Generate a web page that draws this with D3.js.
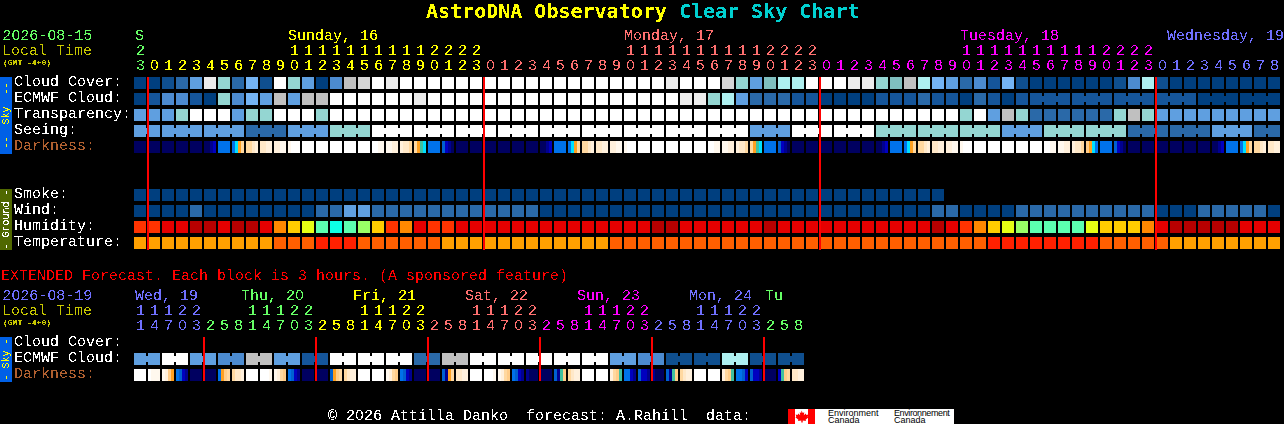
<!DOCTYPE html>
<html>
<head>
<meta charset="utf-8">
<script src="https://d3js.org/d3.v7.min.js"></script>
<style>
html, body { margin: 0; padding: 0; background: #000; overflow: hidden; }
svg { display: block; }
text { font-family: "Liberation Mono", monospace; font-size: 15px; white-space: pre; }
.cell, .bar { shape-rendering: crispEdges; }
</style>
</head>
<body>
<svg id="chart" width="1284" height="424"></svg>
<script>
// sky levels: 0 = clear/dark blue ... 13 = white
const cloudCover = [
  0,0,1,3,5,12,8,3,6,1,
  13,8,5,0,4,10,11,13,12,13,
  13,13,13,13,13,13,13,13,13,13,
  13,13,13,13,13,13,13,13,12,13,
  13,13,11,8,5,9,7,7,13,13,
  13,12,12,8,9,10,7,6,5,3,
  4,2,6,1,0,0,0,0,0,0,
  1,4,7,1,0,0,0,0,0,0,
  0,0];
const ecmwfCloud = [
  0,2,4,4,2,0,8,4,6,5,
  10,5,10,10,13,13,13,13,13,13,
  12,13,13,13,13,13,13,13,13,13,
  13,13,13,13,13,13,13,13,13,12,
  12,8,7,5,3,3,3,2,2,0,
  0,0,0,2,2,2,3,2,2,0,
  3,2,0,2,2,2,2,2,2,2,
  2,2,2,2,2,2,0,0,0,0,
  0,0];
const transparency = [
  5,5,5,8,13,13,13,5,8,8,
  13,13,13,8,13,13,13,13,13,13,
  13,13,13,13,13,13,13,13,13,13,
  13,13,13,13,13,13,13,13,13,13,
  13,13,13,13,13,13,13,13,13,13,
  13,13,13,13,13,13,13,13,13,8,
  13,5,10,8,3,3,3,3,3,3,
  8,10,8,5,5,5,5,5,5,5,
  5,5];
const seeing = [
  5,5,5,5,5,5,5,5,3,3,
  3,5,5,5,8,8,8,13,13,13,
  13,13,13,13,13,13,13,13,13,13,
  13,13,13,13,13,13,13,13,13,13,
  13,13,13,13,5,5,5,13,13,13,
  13,13,13,8,8,8,8,8,8,8,
  8,8,5,5,5,8,8,8,8,8,
  8,3,3,3,3,3,3,5,5,5,
  3,3];
// darkness: four readings per block, one hex digit each (0 = black sky ... d = daylight)
const darkness = [
  "0000","0000","0000","0000","0000","0012","4444","4579","99ab","aabb",
  "bbcc","cddd","dddd","dddd","dddd","dddd","dddd","ddcc","ccbb","baa9",
  "9765","4444","3210","0000","0000","0000","0000","0000","0000","0012",
  "4444","4579","99ab","aabb","bbcc","cddd","dddd","dddd","dddd","dddd",
  "dddd","ddcc","ccbb","baa9","9765","4444","3210","0000","0000","0000",
  "0000","0000","0000","0012","4444","4579","99ab","aabb","bbcc","cddd",
  "dddd","dddd","dddd","dddd","dddd","ddcc","ccbb","baa9","8754","4444",
  "3210","0000","0000","0000","0000","0000","0000","0012","4444","4579",
  "99ab","aabb"];
const smoke = [
  0,0,0,0,0,0,0,0,0,0,
  0,0,0,0,0,0,0,0,0,0,
  0,0,0,0,0,0,0,0,0,0,
  0,0,0,0,0,0,0,0,0,0,
  0,0,0,0,0,0,0,0,0,0,
  0,0,0,0,0,0,0,0];
const wind = [
  0,0,0,0,3,0,0,0,0,0,
  0,0,0,3,3,5,5,3,3,3,
  3,3,3,3,3,3,3,3,3,0,
  0,0,0,0,0,0,0,0,0,0,
  0,0,0,0,0,0,0,0,0,0,
  0,0,0,0,0,0,0,3,3,0,
  0,0,0,3,3,3,3,3,3,3,
  3,3,3,0,0,0,3,3,3,3,
  3,0];
const humidity = [
  2,2,1,1,0,0,1,0,0,1,
  3,4,5,7,8,7,6,4,2,3,
  1,2,2,1,1,1,1,1,1,1,
  1,1,1,1,1,1,1,0,0,1,
  1,1,1,1,1,0,1,1,1,1,
  1,1,1,1,1,1,1,0,1,2,
  3,4,5,6,7,7,7,7,5,4,
  4,4,3,1,0,0,0,0,0,1,
  1,1];
const temperature = [
  0,0,0,0,0,0,0,0,0,0,
  1,1,1,2,2,2,1,1,1,1,
  1,1,0,0,0,0,0,0,0,0,
  0,0,0,0,1,1,1,1,1,1,
  1,1,1,1,1,1,1,1,1,1,
  1,1,1,1,1,1,1,1,1,1,
  1,2,2,2,2,2,2,2,2,1,
  1,1,1,1,0,0,0,0,0,0,
  0,0];

// extended forecast, 3 hour blocks
const extEcmwf = [
  5,5,13,13,5,5,4,4,10,10,
  5,5,2,2,13,13,13,13,13,13,
  3,3,10,10,13,13,13,13,13,13,
  13,13,13,13,5,5,4,4,1,1,
  1,1,7,7,1,1,1,1];
const extDarkness = [
  "dddd","dccc","cb87","4321","0000","0000","4789","9aab","dddd","dddc",
  "cb98","4321","0000","0000","3789","9abb","dddd","dddd","cb98","4321",
  "0000","0000","3179","aabb","dddd","dddc","cb98","4321","1000","0000",
  "3168","9abb","dddd","dddd","b986","4421","3221","1000","3168","9abb",
  "dddd","dddd","b986","4432","3221","0000","2689","aabb"];

// labels
const hours = [23,
  0,1,2,3,4,5,6,7,8,9,10,11,12,13,14,15,16,17,18,19,20,21,22,23,
  0,1,2,3,4,5,6,7,8,9,10,11,12,13,14,15,16,17,18,19,20,21,22,23,
  0,1,2,3,4,5,6,7,8,9,10,11,12,13,14,15,16,17,18,19,20,21,22,23,
  0,1,2,3,4,5,6,7,8];
const hourDays = [0,
  1,1,1,1,1,1,1,1,1,1,1,1,1,1,1,1,1,1,1,1,1,1,1,1,
  2,2,2,2,2,2,2,2,2,2,2,2,2,2,2,2,2,2,2,2,2,2,2,2,
  3,3,3,3,3,3,3,3,3,3,3,3,3,3,3,3,3,3,3,3,3,3,3,3,
  4,4,4,4,4,4,4,4,4];
const dayLabels = ["S", "Sunday, 16", "Monday, 17", "Tuesday, 18", "Wednesday, 19"];
const dayLabelCols = [0, 11, 35, 59, 73.79];
const midnights = [1, 25, 49, 73];

const extHours = [11,14,17,20,23,
  2,5,8,11,14,17,20,23,
  2,5,8,11,14,17,20,23,
  2,5,8,11,14,17,20,23,
  2,5,8,11,14,17,20,23,
  2,5,8,11,14,17,20,23,
  2,5,8];
const extHourDays = [4,4,4,4,4,
  0,0,0,0,0,0,0,0,
  1,1,1,1,1,1,1,1,
  2,2,2,2,2,2,2,2,
  3,3,3,3,3,3,3,3,
  4,4,4,4,4,4,4,4,
  0,0,0];
const extDayLabels = ["Wed, 19", "Thu, 20", "Fri, 21", "Sat, 22", "Sun, 23", "Mon, 24", "Tu"];
const extDayColours = [4, 0, 1, 2, 3, 4, 0];
const extDayCols = [0.07, 7.64, 15.64, 23.64, 31.64, 39.64, 45.07];
const extMidnights = [5, 13, 21, 29, 37, 45];

const skyRows = ["Cloud Cover:", "ECMWF Cloud:", "Transparency:", "Seeing:", "Darkness:"];
const groundRows = ["Smoke:", "Wind:", "Humidity:", "Temperature:"];
const extRows = ["Cloud Cover:", "ECMWF Cloud:", "Darkness:"];

// colours
const skyColour = d3.scaleOrdinal().domain(d3.range(14)).range([
  "#003f7f","#0f4f8f","#15559a","#2a69a8","#4c8bd0","#5f9fe0","#74b4f4",
  "#aef0f0","#94d6d2","#7fbfbf","#c0c0c0","#d6d6d6","#ececec","#ffffff"]);
const darkColour = d3.scaleOrdinal().domain(d3.range(14)).range([
  "#000060","#000090","#0000c0","#0060d0","#0072ea","#00e0ff","#40c0a0",
  "#ffa020","#ffcc88","#ffd8a0","#ffe8c8","#fff0dc","#fff8ee","#ffffff"]);
const humidColour = d3.scaleOrdinal().domain(d3.range(9)).range([
  "#b80000","#e60000","#ff3300","#ff8800","#ffcc00","#e6ff14","#99ff66","#5cffb0","#0dffe6"]);
const tempColour = d3.scaleOrdinal().domain(d3.range(3)).range(["#ffa000","#ff5f00","#ff2000"]);
const dayColours = ["#66ff66", "#ffff00", "#ff7070", "#ff00ff", "#7070ff"];

const step = 14, blockSize = 12, rowStep = 16;

const svg = d3.select("#chart");

// threshold on the alpha so the text has hard edges like the original bitmap font
const filt = svg.append("defs").append("filter").attr("id", "crisp")
  .attr("filterUnits", "userSpaceOnUse")
  .attr("x", 0).attr("y", 0)
  .attr("width", 1284).attr("height", 424)
  .attr("color-interpolation-filters", "sRGB");
filt.append("feComponentTransfer").append("feFuncA")
  .attr("type", "discrete").attr("tableValues", "0 0 1 1");

const marks = svg.append("g");
const labels = svg.append("g").attr("filter", "url(#crisp)");

function bandX(n) {
  return d3.scaleBand().domain(d3.range(n))
    .range([134, 134 + step * n - (step - blockSize)])
    .paddingInner((step - blockSize) / step);
}
function bandY(names, top) {
  return d3.scaleBand().domain(names)
    .range([top, top + rowStep * names.length - (rowStep - blockSize)])
    .paddingInner((rowStep - blockSize) / rowStep);
}

const x = bandX(82);
const xExt = bandX(48);
const ySky = bandY(skyRows, 77);
const yGround = bandY(groundRows, 189);
const yExt = bandY(extRows, 337);

// blocks plus the small bridge that ties blocks of one forecast step together
function drawBlocks(values, xs, y, colour, groupOf) {
  const g = marks.append("g");
  y = Math.round(y);
  g.selectAll("rect.cell").data(values).join("rect")
    .attr("class", "cell")
    .attr("x", (d, i) => Math.round(xs(i)))
    .attr("y", y)
    .attr("width", blockSize)
    .attr("height", blockSize)
    .attr("fill", d => colour(d));
  if (!groupOf) return;
  const joined = d3.range(values.length - 1)
    .filter(i => groupOf(i) !== null && groupOf(i) === groupOf(i + 1));
  g.selectAll("rect.bridge").data(joined).join("rect")
    .attr("class", "cell bridge")
    .attr("x", i => Math.round(xs(i)) + blockSize)
    .attr("y", y + 3)
    .attr("width", step - blockSize)
    .attr("height", blockSize - 6)
    .attr("fill", i => colour(values[i]));
}

function drawDarkness(values, xs, y) {
  const sub = d3.scaleBand().domain(d3.range(4)).range([0, blockSize]);
  y = Math.round(y);
  marks.append("g").selectAll("g").data(values).join("g")
    .attr("transform", (d, i) => "translate(" + Math.round(xs(i)) + "," + y + ")")
    .selectAll("rect").data(d => d.split("").map(c => parseInt(c, 16))).join("rect")
    .attr("class", "cell")
    .attr("x", (d, i) => sub(i))
    .attr("width", sub.bandwidth())
    .attr("height", blockSize)
    .attr("fill", d => darkColour(d));
}

// the mono font has a dotted zero, the original has a plain one
const plainZero = "'Liberation Sans', sans-serif";

function addText(str, px, py, fill, size, weight) {
  const t = labels.append("text")
    .attr("x", px).attr("y", py).attr("fill", fill)
    .style("font-size", size ? size + "px" : null)
    .style("font-weight", weight || null);
  if (size) { t.text(str); return t; }
  str.split(/(0)/).filter(s => s.length).forEach(s => {
    const span = t.append("tspan").text(s);
    if (s === "0") span.style("font-family", plainZero).attr("dx", 0.33);
    else if (str.indexOf("0" + s) >= 0) span.attr("dx", 0.33);
  });
  return t;
}

function drawHours(hrs, days, xs, baseUnits) {
  const cx = i => Math.round(xs(i)) + 6.5;
  labels.append("g").selectAll("text").data(hrs).join("text")
    .attr("x", (d, i) => cx(i))
    .attr("y", baseUnits)
    .attr("text-anchor", "middle")
    .attr("fill", (d, i) => dayColours[days[i]])
    .style("font-family", d => d % 10 === 0 ? plainZero : null)
    .text(d => d % 10);
  labels.append("g").selectAll("text").data(hrs).join("text")
    .attr("x", (d, i) => cx(i))
    .attr("y", baseUnits - 15)
    .attr("text-anchor", "middle")
    .attr("fill", (d, i) => dayColours[days[i]])
    .text(d => d >= 10 ? Math.floor(d / 10) : "");
}

function rowLabels(names, y) {
  labels.append("g").selectAll("text").data(names).join("text")
    .attr("x", 14)
    .attr("y", d => Math.round(y(d)) + 9)
    .attr("fill", d => d === "Darkness:" ? "#b06030" : "#ffffff")
    .text(d => d);
}

function sideBar(y0, y1, fill, str, textFill) {
  marks.append("rect").attr("class", "bar")
    .attr("x", 0).attr("y", y0).attr("width", 12).attr("height", y1 - y0).attr("fill", fill);
  labels.append("text")
    .attr("transform", "translate(9," + (y0 + y1) / 2 + ") rotate(-90)")
    .attr("text-anchor", "middle")
    .attr("fill", textFill)
    .style("font-size", "10px")
    .text(str);
}

function redLines(cols, xs, y0, y1) {
  marks.append("g").selectAll("rect").data(cols).join("rect")
    .attr("class", "bar")
    .attr("x", d => Math.round(xs(d)) - 1)
    .attr("y", y0)
    .attr("width", 2)
    .attr("height", y1 - y0)
    .attr("fill", "#ff0000");
}

// main chart
drawBlocks(cloudCover, x, ySky(skyRows[0]), skyColour);
drawBlocks(ecmwfCloud, x, ySky(skyRows[1]), skyColour, i => i >= 64 ? Math.floor((i + 2) / 3) : null);
drawBlocks(transparency, x, ySky(skyRows[2]), skyColour);
drawBlocks(seeing, x, ySky(skyRows[3]), skyColour, i => Math.floor((i + 1) / 3));
drawDarkness(darkness, x, ySky(skyRows[4]));
drawBlocks(smoke, x, yGround(groundRows[0]), skyColour);
drawBlocks(wind, x, yGround(groundRows[1]), skyColour);
drawBlocks(humidity, x, yGround(groundRows[2]), humidColour);
drawBlocks(temperature, x, yGround(groundRows[3]), tempColour);
redLines(midnights, x, 77, 250);

// extended chart
drawBlocks(extEcmwf, xExt, yExt(extRows[1]), skyColour, i => Math.floor(i / 2));
drawDarkness(extDarkness, xExt, yExt(extRows[2]));
redLines(extMidnights, xExt, 337, 381);

sideBar(77, 154, "#0060e6", "--  Sky  --", "#ffff00");
sideBar(189, 250, "#506800", "- Ground -", "#ffffff");
sideBar(337, 382, "#0060e6", "- Sky -", "#ffff00");

rowLabels(skyRows, ySky);
rowLabels(groundRows, yGround);
rowLabels(extRows, yExt);

// title
const title = labels.append("text").attr("x", 426).attr("y", 18)
  .style("font-family", "'DejaVu Sans Mono', monospace")
  .style("font-size", "20px").style("font-weight", "bold");
title.append("tspan").attr("fill", "#ffff00").text("AstroDNA Observatory ");
title.append("tspan").attr("fill", "#00d0d0").text("Clear Sky Chart");

// header, main
addText("2026-08-15", 2, 40, dayColours[0]);
addText("Local Time", 2, 55, "#c8c800");
addText("(GMT -4+0)", 3, 65, "#c8c800", 8, "bold");
const xLab = d3.scaleLinear().domain([0, 1]).range([134, 134 + step]);
dayLabels.forEach((d, i) => addText(d, Math.round(xLab(dayLabelCols[i])) + (i === 0 ? 1 : 0), 40, dayColours[i]));
drawHours(hours, hourDays, x, 70);

// header, extended
addText("EXTENDED Forecast. Each block is 3 hours. (A sponsored feature)", 1, 280, "#ff0000");
addText("2026-08-19", 2, 300, dayColours[4]);
addText("Local Time", 2, 315, "#c8c800");
addText("(GMT -4+0)", 3, 325, "#c8c800", 8, "bold");
extDayLabels.forEach((d, i) => addText(d, Math.round(xLab(extDayCols[i])), 300, dayColours[extDayColours[i]]));
drawHours(extHours, extHourDays, xExt, 330);

// footer
addText("\u00a9 2026 Attilla Danko  forecast: A.Rahill  data:", 328, 420, "#ffffff");

const logo = svg.append("g").attr("transform", "translate(788,409)");
logo.append("rect").attr("class", "bar").attr("width", 166).attr("height", 15).attr("fill", "#ffffff");
logo.append("rect").attr("class", "bar").attr("width", 7).attr("height", 15).attr("fill", "#ff0000");
logo.append("rect").attr("class", "bar").attr("x", 20).attr("width", 7).attr("height", 15).attr("fill", "#ff0000");
logo.append("path").attr("fill", "#ff0000")
  .attr("d", "M13.5 1.5l1.3 2.5 1.5-.8-.5 3 2-1.7.6 1.4 2-.4-.7 2.3.9.5-3 2.4.4 1.2-3.3-.4V13.5h-1.4V11.5l-3.3.4.4-1.2-3-2.4.9-.5-.7-2.3 2 .4.6-1.4 2 1.7-.5-3 1.5.8z");
const logoFont = "'Liberation Sans', sans-serif";
[["Environment", 40, 7], ["Canada", 40, 14], ["Environnement", 106, 7], ["Canada", 106, 14]].forEach(t => {
  logo.append("text").attr("x", t[1]).attr("y", t[2]).attr("fill", "#000")
    .style("font-family", logoFont).style("font-size", "9px").style("letter-spacing", t[0].length === 13 ? "-0.4px" : null).text(t[0]);
});
</script>
</body>
</html>
